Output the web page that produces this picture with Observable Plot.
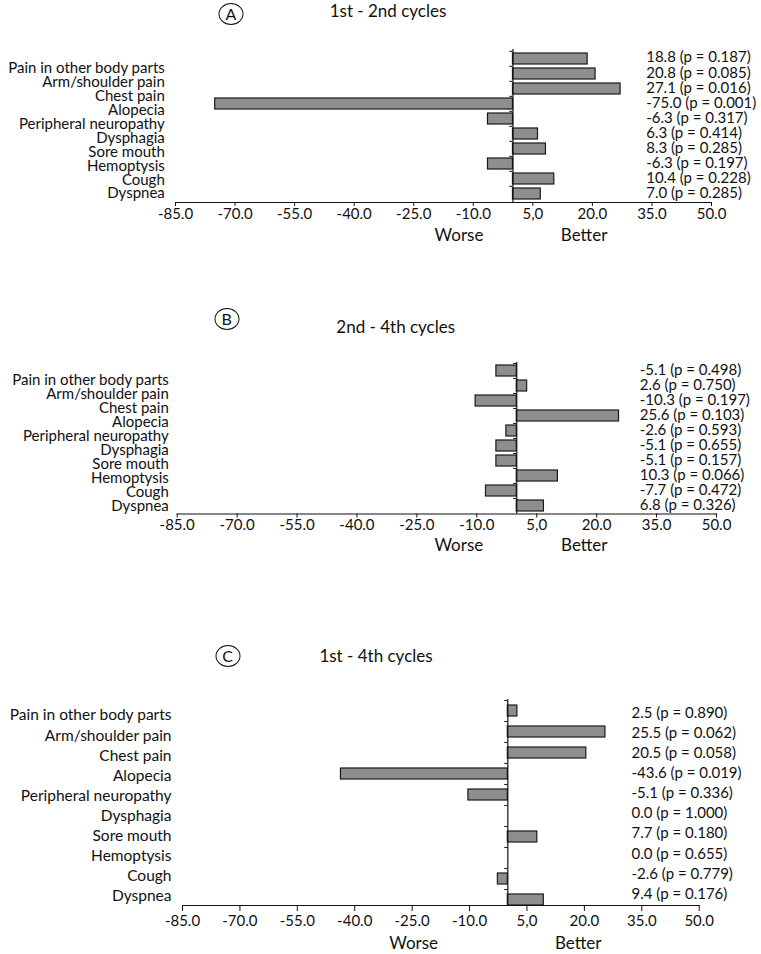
<!DOCTYPE html>
<html>
<head>
<meta charset="utf-8">
<script src="https://cdn.jsdelivr.net/npm/d3@7"></script>
<script src="https://cdn.jsdelivr.net/npm/@observablehq/plot@0.6"></script>
<style>
  html, body { margin: 0; padding: 0; background: #fff; }
  #root { position: relative; width: 761px; height: 954px; overflow: hidden; font-family: Lato, "Open Sans", sans-serif; color: #111; }
  .panel { position: absolute; left: 0; }
  .badge { position: absolute; width: 23px; height: 20px; border: 1.3px solid #111; border-radius: 50%; font-size: 16px; line-height: 20px; text-align: center; transform: translate(-50%, -50%); }
  .title { position: absolute; font-size: 17px; white-space: nowrap; transform: translate(-50%, -50%); }
</style>
</head>
<body>
<div id="root"></div>
<script>
// ---------- data ----------
const categories = ["Pain in other body parts", "Arm/shoulder pain", "Chest pain", "Alopecia",
  "Peripheral neuropathy", "Dysphagia", "Sore mouth", "Hemoptysis", "Cough", "Dyspnea"];

const panelLetters = ["A", "B", "C"];
const panelTitles = ["1st - 2nd cycles", "2nd - 4th cycles", "1st - 4th cycles"];

// printed differences (label values)
const valuesA = [18.8, 20.8, 27.1, -75.0, -6.3, 6.3, 8.3, -6.3, 10.4, 7.0];
const pA      = [0.187, 0.085, 0.016, 0.001, 0.317, 0.414, 0.285, 0.197, 0.228, 0.285];
const valuesB = [-5.1, 2.6, -10.3, 25.6, -2.6, -5.1, -5.1, 10.3, -7.7, 6.8];
const pB      = [0.498, 0.750, 0.197, 0.103, 0.593, 0.655, 0.157, 0.066, 0.472, 0.326];
const valuesC = [2.5, 25.5, 20.5, -43.6, -5.1, 0.0, 7.7, 0.0, -2.6, 9.4];
const pC      = [0.890, 0.062, 0.058, 0.019, 0.336, 1.000, 0.180, 0.655, 0.779, 0.176];
// bar lengths as drawn in the original (panel C neuropathy bar is drawn longer than its label)
const barsC   = [2.5, 25.5, 20.5, -43.6, -10.3, 0.0, 7.7, 0.0, -2.6, 9.4];

const tickValues = [-85, -70, -55, -40, -25, -10, 5, 20, 35, 50];
const tickLabels = ["-85.0", "-70.0", "-55.0", "-40.0", "-25.0", "-10.0", "5,0", "20.0", "35.0", "50.0"];
const sideLabels = ["Worse", "Better"];

// ---------- layout (style only) ----------
const panels = [
  {top: 0, height: 250, mt: 49, mb: 48, ml: 175, mr: 50, insetBottom: 0, pad: 0.28, tickSize: 4, tickPad: 2,
   labFont: 15, labDy: [9.4, -1.08], valDy: [-1.4, 0.1], labDx: -10.7, valDx: -65.3, sideX: [-13.6, 17.9], sideDy: 38,
   bars: valuesA, vals: valuesA, p: pA, badge: [231, 13.5], title: [388, 9.5]},
  {top: 300, height: 254, mt: 62, mb: 40.5, ml: 176.7, mr: 45, insetBottom: 0, pad: 0.28, tickSize: 4, tickPad: 1,
   labFont: 15, labDy: [8.7, -0.9], valDy: [-1.3, 0.1], labDx: -8.4, valDx: -76.7, sideX: [-14.5, 16.9], sideDy: 37,
   bars: valuesB, vals: valuesB, p: pB, badge: [226.7, 318.5], title: [395.7, 326]},
  {top: 610, height: 344, mt: 89.3, mb: 49, ml: 182, mr: 62.3, insetBottom: -4.8, pad: 0.48, tickSize: 6, tickPad: 4,
   labFont: 15.5, labDy: [4.5, -0.92], valDy: [2.5, -0.97], labDx: -11, valDx: -67.7, sideX: [-24.6, 18.4], sideDy: 43,
   bars: barsC, vals: valuesC, p: pC, badge: [227.5, 655.5], title: [376, 655]}
];

const root = document.getElementById("root");

panels.forEach((cfg, k) => {
  const rows = categories.map((c, i) => ({
    category: c, i, bar: cfg.bars[i],
    label: `${cfg.vals[i].toFixed(1)} (p = ${cfg.p[i].toFixed(3)})`
  }));
  const plotH = cfg.height - cfg.mt - cfg.mb - cfg.insetBottom;
  const step = plotH / categories.length;

  const marks = [
    Plot.frame({anchor: "bottom", stroke: "#111", strokeWidth: 1.2}),
    // category labels (original spacing slightly tighter than bars)
    ...rows.map(r => Plot.text([r], {
      y: "category", text: "category", frameAnchor: "left", textAnchor: "end",
      dx: cfg.labDx, dy: cfg.labDy[0] + cfg.labDy[1] * r.i, fontSize: cfg.labFont, fill: "#111"
    })),
    // value labels
    ...rows.map(r => Plot.text([r], {
      y: "category", text: "label", frameAnchor: "right", textAnchor: "start",
      dx: cfg.valDx, dy: cfg.valDy[0] + cfg.valDy[1] * r.i, fontSize: 15, fill: "#111"
    })),
    Plot.barX(rows, {x: "bar", y: "category", fill: "#8e8e8e", stroke: "#1a1a1a", strokeWidth: 1.2}),
    // zero line with small ticks at row boundaries
    Plot.ruleX([0], {stroke: "#111", strokeWidth: 1.2}),
    Plot.ruleY(rows, {y: "category", x1: 0, x2: -0.8, dy: -step / 2, stroke: "#111", strokeWidth: 1}),
    // Worse / Better
    Plot.text(sideLabels, {x: (d, i) => cfg.sideX[i], text: d => d, frameAnchor: "bottom",
      dy: cfg.sideDy, fontSize: 17, fill: "#111"})
  ];

  const chart = Plot.plot({
    width: 761,
    height: cfg.height,
    marginTop: cfg.mt,
    marginBottom: cfg.mb,
    marginLeft: cfg.ml,
    marginRight: cfg.mr,
    insetBottom: cfg.insetBottom,
    style: {fontFamily: "Lato, 'Open Sans', sans-serif", fontSize: "15px", color: "#111", background: "transparent", overflow: "visible"},
    x: {domain: [-85, 50], ticks: tickValues, tickFormat: (d) => tickLabels[tickValues.indexOf(d)],
        tickSize: cfg.tickSize, tickPadding: cfg.tickPad, label: null},
    y: {domain: categories, axis: null, paddingInner: cfg.pad, paddingOuter: cfg.pad / 2},
    marks
  });

  const wrap = document.createElement("div");
  wrap.className = "panel";
  wrap.style.top = cfg.top + "px";
  wrap.appendChild(chart);
  root.appendChild(wrap);

  const badge = document.createElement("div");
  badge.className = "badge";
  badge.style.left = cfg.badge[0] + "px";
  badge.style.top = cfg.badge[1] + "px";
  badge.textContent = panelLetters[k];
  root.appendChild(badge);

  const title = document.createElement("div");
  title.className = "title";
  title.style.left = cfg.title[0] + "px";
  title.style.top = cfg.title[1] + "px";
  title.textContent = panelTitles[k];
  root.appendChild(title);
});
</script>
</body>
</html>
